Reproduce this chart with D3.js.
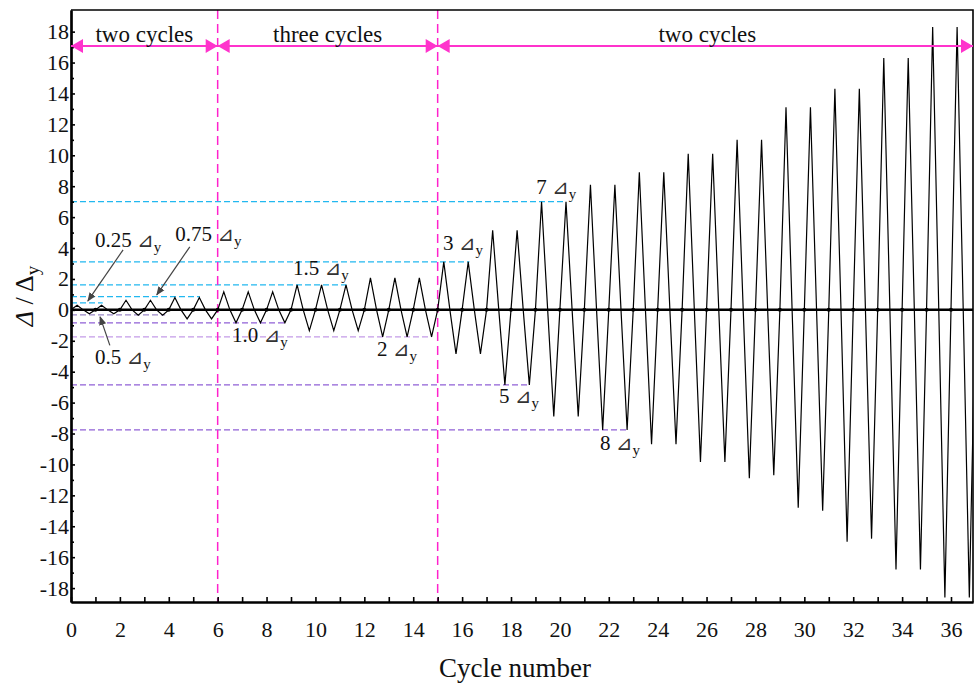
<!DOCTYPE html>
<html>
<head>
<meta charset="utf-8">
<script src="https://cdn.jsdelivr.net/npm/d3@7"></script>
<style>
  body { margin: 0; background: #fff; }
  svg text { font-family: "Liberation Serif", "Times New Roman", serif; fill: #111; }
</style>
</head>
<body>
<script>
// peak values of each loading cycle (Δ/Δy)
var posPeak = [0.3, 0.3, 0.62, 0.62, 0.8, 0.8,
               1.17, 1.17, 1.17, 1.62, 1.62, 1.62, 2.07, 2.07, 2.07,
               3.1, 3.1, 5.15, 5.15, 7.0, 7.0, 8.1, 8.1, 8.9, 8.9,
               10.1, 10.1, 11.0, 11.0, 13.1, 13.1, 14.3, 14.3, 16.3, 16.3, 18.3, 18.3];
var negPeak = [-0.25, -0.25, -0.35, -0.35, -0.58, -0.58,
               -0.84, -0.84, -0.84, -1.35, -1.35, -1.35, -1.75, -1.75, -1.75,
               -2.85, -2.85, -4.85, -4.85, -6.9, -6.9, -7.77, -7.77, -8.7, -8.7,
               -9.84, -9.84, -10.9, -10.7, -12.8, -13.0, -15.0, -14.8, -16.8, -16.8, -18.6, -18.6];

// dashed reference levels and the cycle where each one stops
var refLevel = [0.45, 0.86, 1.62, 3.1, 7.0, -0.32, -0.84, -1.75, -4.85, -7.77];
var refEnd   = [1.3, 5.27, 11.27, 16.3, 20.25, 3.85, 8.8, 14.75, 18.76, 22.76];

var stageBreaks = [0, 6, 15, 36.9];
var stageNames = ["two cycles", "three cycles", "two cycles"];

var levelNames = ["0.25", "0.75", "0.5", "1.0", "1.5", "2", "3", "5", "7", "8"];

var yMajor = d3.range(-18, 19, 2);
var yMinor = d3.range(-17, 19, 2);
var xMajor = d3.range(0, 37, 2);
var xMinor = d3.range(1, 37, 2);

var screen = {width: 974, height: 685};
var plot = {left: 71, right: 973, top: 10, bottom: 602};
var serif = '"Liberation Serif", "Times New Roman", serif';

var x = d3.scaleLinear().domain([0, 36.9]).range([plot.left, plot.right]);
var y = d3.scaleLinear().domain([-18.9, 19.4]).range([plot.bottom, plot.top]);

var svg = d3.select("body").append("svg")
            .attr("width", screen.width)
            .attr("height", screen.height);

var defs = svg.append("defs");
defs.append("clipPath").attr("id", "clip")
   .append("rect")
   .attr("x", plot.left).attr("y", plot.top)
   .attr("width", plot.right - plot.left).attr("height", plot.bottom - plot.top);

defs.append("marker").attr("id", "grayHead")
    .attr("viewBox", "0 0 10 10").attr("refX", 9).attr("refY", 5)
    .attr("markerWidth", 9).attr("markerHeight", 9).attr("orient", "auto")
    .attr("markerUnits", "userSpaceOnUse")
    .append("path").attr("d", "M0,1 L10,5 L0,9 Z").attr("fill", "#444");

// reference dashed lines
var refColor = function(v, i) {
  if (v > 0) return "#22b8f0";
  if (i == 5) return "#9a88c6";
  if (v == -1.75) return "#c39be8";
  return "#9060d6";
};
svg.append("g").selectAll("line")
   .data(refLevel)
   .enter().append("line")
   .attr("x1", x(0))
   .attr("x2", function(d, i) { return x(refEnd[i]); })
   .attr("y1", function(d) { return y(d); })
   .attr("y2", function(d) { return y(d); })
   .attr("stroke", refColor)
   .attr("stroke-width", 1.3)
   .attr("stroke-dasharray", "6,3");

// stage separators
svg.append("g").selectAll("line")
   .data(stageBreaks.slice(1, 3))
   .enter().append("line")
   .attr("x1", function(d) { return x(d); })
   .attr("x2", function(d) { return x(d); })
   .attr("y1", plot.top).attr("y2", plot.bottom)
   .attr("stroke", "#ff22cc")
   .attr("stroke-width", 1.5)
   .attr("stroke-dasharray", "9,5");

// zero line
svg.append("line")
   .attr("x1", plot.left).attr("x2", plot.right)
   .attr("y1", y(0)).attr("y2", y(0))
   .attr("stroke", "#000").attr("stroke-width", 2.5);

// loading curve
var pts = [];
posPeak.forEach(function(p, i) {
  pts.push([i, 0]);
  pts.push([i + 0.25, p]);
  pts.push([i + 0.5, 0]);
  pts.push([i + 0.75, negPeak[i]]);
});
pts.push([posPeak.length, 0]);

var line = d3.line()
             .x(function(d) { return x(d[0]); })
             .y(function(d) { return y(d[1]); });

svg.append("path")
   .datum(pts)
   .attr("clip-path", "url(#clip)")
   .attr("d", line)
   .attr("fill", "none")
   .attr("stroke", "#000")
   .attr("stroke-width", 1.2)
   .attr("stroke-linejoin", "miter");

svg.append("g").selectAll("circle")
   .data(d3.range(1, 37))
   .enter().append("circle")
   .attr("cx", function(d) { return x(d); })
   .attr("cy", y(0))
   .attr("r", 2)
   .attr("fill", "#000");

// axes
var yAxis = d3.axisLeft(y).tickValues(yMajor).tickSize(-4).tickSizeOuter(0).tickPadding(2)
              .tickFormat(function(d) { return String(d); });
var yAxisMinor = d3.axisLeft(y).tickValues(yMinor).tickSize(-3).tickSizeOuter(0).tickFormat("");
var xAxis = d3.axisBottom(x).tickValues(xMajor).tickSize(-5).tickSizeOuter(0).tickPadding(19);
var xAxisMinor = d3.axisBottom(x).tickValues(xMinor).tickSize(-5).tickSizeOuter(0).tickFormat("");

var gy = svg.append("g").attr("transform", "translate(" + plot.left + ",0)").call(yAxis);
svg.append("g").attr("transform", "translate(" + plot.left + ",0)").call(yAxisMinor);
var gx = svg.append("g").attr("transform", "translate(0," + plot.bottom + ")").call(xAxis);
svg.append("g").attr("transform", "translate(0," + plot.bottom + ")").call(xAxisMinor);

svg.selectAll(".domain").attr("stroke-width", 2.2);
svg.selectAll(".tick line").attr("stroke-width", 1.6);
[gy, gx].forEach(function(g) {
  g.attr("font-family", serif).attr("font-size", 22);
  g.selectAll("text").attr("font-family", serif).attr("font-size", 22).attr("fill", "#111");
});

// frame top + right
svg.append("path")
   .attr("d", "M" + plot.left + "," + plot.top + "H" + plot.right + "V" + plot.bottom)
   .attr("fill", "none").attr("stroke", "#000").attr("stroke-width", 1.6);

// axis titles
svg.append("text")
   .attr("x", (plot.left + plot.right) / 2 - 7)
   .attr("y", 677)
   .attr("text-anchor", "middle")
   .attr("font-size", 27)
   .text("Cycle number");

var yt = svg.append("text")
   .attr("transform", "translate(33,296) rotate(-90)")
   .attr("text-anchor", "middle")
   .attr("font-size", 26);
yt.append("tspan").attr("font-style", "italic").text("Δ");
yt.append("tspan").text(" / Δ");
yt.append("tspan").attr("font-size", 19).attr("dy", 6).text("y");

// stage arrows
var arrowY = 46;
var stage = svg.append("g");
stageNames.forEach(function(name, i) {
  var a = x(stageBreaks[i]), b = x(stageBreaks[i + 1]);
  stage.append("line")
       .attr("x1", a).attr("x2", b).attr("y1", arrowY).attr("y2", arrowY)
       .attr("stroke", "#ff33cc").attr("stroke-width", 2);
  stage.append("path")
       .attr("d", "M" + a + "," + arrowY + " l12,-7 l0,14 Z")
       .attr("fill", "#ff33cc");
  stage.append("path")
       .attr("d", "M" + b + "," + arrowY + " l-12,-7 l0,14 Z")
       .attr("fill", "#ff33cc");
  stage.append("text")
       .attr("x", (a + b) / 2 + (i == 2 ? 2 : 0))
       .attr("y", 42)
       .attr("text-anchor", "middle")
       .attr("font-size", 23)
       .text(name);
});

// level labels (positions in data units)
var labelPos = [[0.98, 4.08], [4.26, 4.47], [0.98, -3.5], [6.59, -2.07], [9.08, 2.27],
                [12.52, -2.98], [15.22, 3.88], [17.51, -6.02], [19.03, 7.5], [21.64, -9.06]];
var lab = svg.append("g").selectAll("text")
   .data(levelNames)
   .enter().append("text")
   .attr("x", function(d, i) { return x(labelPos[i][0]); })
   .attr("y", function(d, i) { return y(labelPos[i][1]); })
   .attr("font-size", 21);
lab.append("tspan").text(function(d) { return d + " "; });
lab.append("tspan").style("font-family", "DejaVu Sans, sans-serif").attr("font-size", 20).attr("fill", "#333").text("⊿");
lab.append("tspan").attr("font-size", 15).attr("dy", 5).text("y");

// pointer arrows for the small levels
var pointers = [[[2.13, 3.88], [0.69, 0.58]],
                [[4.86, 4.08], [3.51, 0.97]],
                [[1.59, -2.3], [1.19, -0.45]]];
svg.append("g").selectAll("line")
   .data(pointers)
   .enter().append("line")
   .attr("x1", function(d) { return x(d[0][0]); })
   .attr("y1", function(d) { return y(d[0][1]); })
   .attr("x2", function(d) { return x(d[1][0]); })
   .attr("y2", function(d) { return y(d[1][1]); })
   .attr("stroke", "#444").attr("stroke-width", 1.2)
   .attr("marker-end", "url(#grayHead)");
</script>
</body>
</html>
